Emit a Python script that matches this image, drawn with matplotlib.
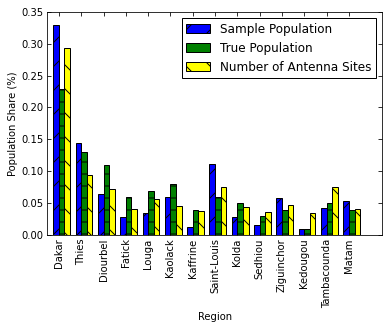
import numpy as np
import matplotlib
matplotlib.use('Agg')
import matplotlib.pyplot as plt

regions = ['Dakar', 'Thies', 'Diourbel', 'Fatick', 'Louga', 'Kaolack', 'Kaffrine',
           'Saint-Louis', 'Kolda', 'Sedhiou', 'Ziguinchor', 'Kedougou', 'Tambacounda', 'Matam']
sample_pop = [0.330, 0.144, 0.065, 0.028, 0.034, 0.059, 0.012,
              0.111, 0.028, 0.015, 0.058, 0.009, 0.043, 0.054]
true_pop = [0.229, 0.130, 0.109, 0.059, 0.069, 0.080, 0.039,
            0.059, 0.050, 0.029, 0.039, 0.009, 0.050, 0.039]
antenna_sites = [0.293, 0.094, 0.072, 0.040, 0.056, 0.045, 0.037,
                 0.075, 0.044, 0.036, 0.047, 0.034, 0.076, 0.041]

plt.rcParams['hatch.linewidth'] = 1.0
plt.rcParams['font.size'] = 10

ind = np.arange(len(regions))
width = 0.25

# rendered at 72 dpi so the hatch spacing matches the old-style output
fig = plt.figure(figsize=(389 / 72, 330 / 72), dpi=72)
ax = fig.add_axes([0.1216, 0.288, 0.8614, 0.676])

ax.bar(ind, sample_pop, width, align='edge', color='blue', edgecolor='black',
       hatch='/', linewidth=1, label='Sample Population')
ax.bar(ind + width, true_pop, width, align='edge', color='green', edgecolor='black',
       hatch='-', linewidth=1, label='True Population')
ax.bar(ind + 2 * width, antenna_sites, width, align='edge', color='yellow', edgecolor='black',
       hatch='\\', linewidth=1, label='Number of Antenna Sites')

ax.set_xlim(-0.27, 14.75)
ax.set_ylim(0, 0.35)
ax.set_xticks(ind + width)
ax.set_xticklabels(regions, rotation=90)
ax.set_yticks(np.arange(0, 0.351, 0.05))
ax.yaxis.set_major_formatter(matplotlib.ticker.FormatStrFormatter('%.2f'))
ax.tick_params(direction='in', top=True, right=True, length=4, labelsize=10)
ax.set_xlabel('Region', fontsize=10)
ax.set_ylabel('Population Share (%)', fontsize=10)

leg = ax.legend(loc='upper right', fontsize=12, fancybox=False, framealpha=1,
                edgecolor='black', handlelength=2.0, borderaxespad=0.5)
leg.get_frame().set_linewidth(1.0)

fig.savefig('out.png', dpi=72)
